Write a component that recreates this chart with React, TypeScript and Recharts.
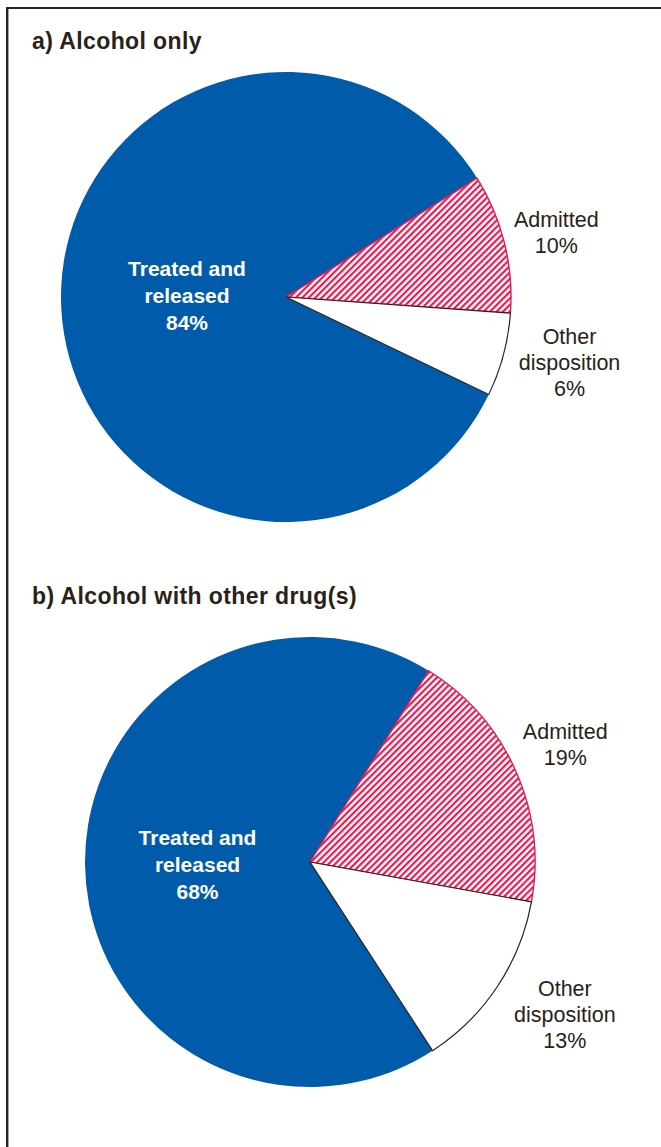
import { PieChart, Pie, Cell } from 'recharts'

// categories and shares (%)
const categories = ['Treated and released', 'Admitted', 'Other disposition']
const alcoholOnly = [84, 10, 6]
const alcoholWithDrugs = [68, 19, 13]
const labelLines = [['Treated and', 'released'], ['Admitted'], ['Other', 'disposition']]

const BLUE = '#005baa'
const RED = '#e31b54'
const INK = '#2a2217'
const RAD = Math.PI / 180

const tableA = categories.map((name, i) => ({ name, value: alcoholOnly[i] }))
const tableB = categories.map((name, i) => ({ name, value: alcoholWithDrugs[i] }))

type LabelSpot = { inside?: boolean; r: number; shift: number }

// where each label sits relative to its slice (radius + angle nudge)
const spotsA: LabelSpot[] = [
  { inside: true, r: 0.44, shift: -3.7 },
  { r: 53, shift: -0.4 },
  { r: 66, shift: 1.9 },
]
const spotsB: LabelSpot[] = [
  { inside: true, r: 0.5, shift: 0.6 },
  { r: 56, shift: 0.7 },
  { r: 72, shift: 2.7 },
]

function makeLabel(spots: LabelSpot[]) {
  return (props: any) => {
    const { cx, cy, midAngle, outerRadius, index, value } = props
    const s = spots[index]
    const r = s.inside ? outerRadius * s.r : outerRadius + s.r
    const a = (midAngle + s.shift) * RAD
    const x = cx + r * Math.cos(a)
    const y = cy - r * Math.sin(a)
    const lines = [...labelLines[index], `${value}%`]
    const lh = s.inside ? 27 : 26
    const inside = !!s.inside
    return (
      <text
        key={`lbl-${index}`}
        x={x}
        y={y}
        textAnchor="middle"
        fill={inside ? '#ffffff' : INK}
        fontSize={inside ? 21 : 21.5}
        fontWeight={inside ? 700 : 400}
        fontFamily='"Liberation Sans", Arial, sans-serif'
      >
        {lines.map((t, i) => (
          <tspan key={i} x={x} y={y + (i - (lines.length - 1) / 2) * lh + 7.5}>
            {t}
          </tspan>
        ))}
      </text>
    )
  }
}

const fills = [BLUE, 'url(#hatch)', '#ffffff']
const strokes = [BLUE, RED, INK]
const strokeWidths = [0, 1.4, 1.2]

function DispositionPie({
  data,
  width,
  height,
  cx,
  cy,
  startAngle,
  spots,
}: {
  data: { name: string; value: number }[]
  width: number
  height: number
  cx: number
  cy: number
  startAngle: number
  spots: LabelSpot[]
}) {
  return (
    <PieChart width={width} height={height} margin={{ top: 0, right: 0, bottom: 0, left: 0 }}>
      <Pie
        data={data}
        dataKey="value"
        nameKey="name"
        cx={cx}
        cy={cy}
        outerRadius={225}
        startAngle={startAngle}
        endAngle={startAngle - 360}
        label={makeLabel(spots)}
        labelLine={false}
        isAnimationActive={false}
      >
        {data.map((d, i) => (
          <Cell key={d.name} fill={fills[i]} stroke={strokes[i]} strokeWidth={strokeWidths[i]} />
        ))}
      </Pie>
    </PieChart>
  )
}

export default function App() {
  return (
    <div
      style={{
        position: 'absolute',
        left: 0,
        top: 0,
        width: 661,
        height: 1147,
        background: '#fff',
        overflow: 'hidden',
        fontFamily: '"Liberation Sans", Arial, sans-serif',
      }}
    >
      <svg width={0} height={0} style={{ position: 'absolute' }}>
        <defs>
          <pattern id="hatch" patternUnits="userSpaceOnUse" width={4.6} height={4.6} patternTransform="rotate(45)">
            <rect x={0} y={0} width={4.6} height={4.6} fill="#ffffff" />
            <rect x={0} y={0} width={2.2} height={4.6} fill={RED} />
          </pattern>
        </defs>
      </svg>

      <div style={{ position: 'absolute', left: 0, top: 0 }}>
        <DispositionPie data={tableA} width={661} height={560} cx={286} cy={297} startAngle={334.3} spots={spotsA} />
      </div>
      <div style={{ position: 'absolute', left: 0, top: 560 }}>
        <DispositionPie data={tableB} width={661} height={587} cx={310} cy={302} startAngle={303} spots={spotsB} />
      </div>

      <svg width={661} height={1147} style={{ position: 'absolute', left: 0, top: 0, pointerEvents: 'none' }}>
        <line x1={6} y1={8} x2={661} y2={8} stroke={INK} strokeWidth={2.2} />
        <line x1={7.2} y1={7} x2={7.2} y2={1147} stroke={INK} strokeWidth={2.4} />
        <text x={32} y={49} fontSize={23} fontWeight={700} letterSpacing={0.4} fill={INK}>
          a) Alcohol only
        </text>
        <text x={32} y={604} fontSize={23} fontWeight={700} letterSpacing={0.4} fill={INK}>
          b) Alcohol with other drug(s)
        </text>
      </svg>
    </div>
  )
}
